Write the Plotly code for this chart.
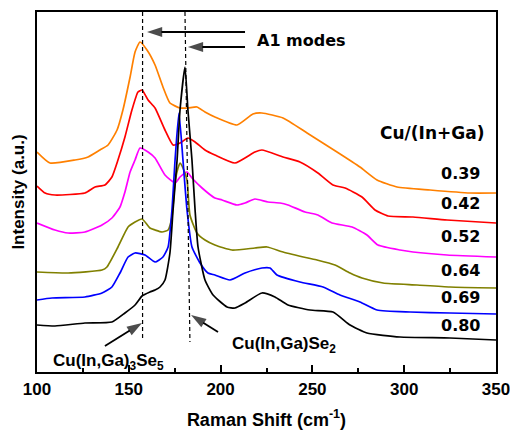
import plotly.graph_objects as go

# ---- data (Raman shift in cm^-1, intensity in arbitrary units, offset stacked) ----
x_039 = [100, 107.1, 120.7, 127.8, 134.3, 138.7, 143.6, 146.8, 150.7, 153.4, 156.1, 159.9, 164.3, 168.6,
         172.4, 177.9, 182.2, 187.1, 191.5, 196.9, 208.9, 217.6, 222.5, 234.0, 247.1, 263.4, 275.9,
         285.2, 296.1, 314.1, 335.8, 350]
y_039 = [220, 209, 212, 215, 222, 227, 242, 262, 295, 320, 330, 322, 307, 285,
         269, 264, 264, 265, 260, 255, 247, 258, 259, 254, 239, 220, 205,
         192, 185, 182, 179, 179]

x_042 = [100, 104.4, 109.8, 126.1, 131.6, 137.0, 140.8, 144.1, 147.9, 151.7, 155.0, 157.2, 160.5, 164.3,
         169.7, 174.1, 177.9, 182.2, 186.1, 191.5, 196.9, 207.8, 218.7, 222.5, 234.0, 243.2, 253.0,
         261.2, 267.8, 277.0, 284.1, 291.2, 304.8, 323.3, 350]
y_042 = [186, 179, 177, 179, 185, 187, 195, 212, 235, 262, 280, 282, 272, 264,
         242, 227, 229, 234, 230, 222, 217, 209, 220, 222, 215, 210, 199,
         187, 184, 175, 162, 156, 155, 152, 149]

x_052 = [100, 109.8, 116.9, 126.1, 135.4, 140.8, 145.2, 147.9, 150.7, 153.4, 156.1, 160.5, 164.3, 169.7,
         175.2, 177.9, 181.7, 184.4, 189.9, 196.9, 200.8, 208.9, 213.3, 218.7, 225.8, 232.4, 236.7,
         246.0, 253.0, 260.7, 271.6, 279.7, 285.7, 297.7, 304.8, 323.3, 350]
y_052 = [149, 142, 139, 140, 147, 154, 165, 180, 200, 212, 224, 220, 214, 197,
         189, 195, 200, 194, 184, 174, 172, 167, 169, 173, 170, 169, 167,
         160, 157, 149, 145, 137, 127, 122, 120, 117, 115]

x_064 = [100, 116.9, 135.4, 138.1, 144.1, 149.6, 153.4, 157.2, 161.5, 164.3, 168.1, 171.4, 173.5, 175.2,
         176.8, 177.9, 179.5, 181.7, 183.3, 187.1, 191.5, 196.9, 206.2, 218.7, 225.3, 234.0, 247.6,
         252.5, 262.3, 270.5, 277.0, 288.5, 307.0, 324.9, 350]
y_064 = [100, 99, 102, 105, 125, 145, 150, 153, 144, 142, 140, 142, 155, 190,
         204, 209, 204, 192, 157, 139, 132, 127, 122, 124, 125, 120, 114,
         112, 107, 99, 94, 89, 87, 85, 84]

x_069 = [100, 108.2, 126.1, 135.4, 140.8, 145.2, 149.6, 153.4, 158.8, 164.3, 168.6, 171.4, 173.5, 175.2,
         177.3, 179.5, 181.7, 184.4, 188.8, 193.1, 196.9, 205.1, 213.3, 222.5, 226.9, 230.7, 243.2,
         255.8, 265.0, 275.9, 285.2, 303.2, 324.9, 350]
y_069 = [72, 74, 75, 79, 85, 99, 115, 119, 117, 110, 115, 125, 162, 212,
         259, 212, 162, 125, 109, 99, 97, 92, 99, 104, 104, 97, 90,
         85, 77, 70, 62, 60, 59, 58]

x_080 = [100, 109.8, 126.1, 140.8, 147.9, 153.4, 157.2, 161.5, 164.3, 167.0, 169.7, 172.4, 174.1, 176.3,
         177.9, 180.6, 182.2, 184.4, 186.1, 187.7, 191.5, 195.9, 203.5, 207.8, 213.3, 222.5, 229.6,
         236.7, 248.7, 261.2, 270.5, 279.7, 297.7, 324.9, 350]
y_080 = [47, 46, 49, 50, 59, 67, 76, 80, 82, 85, 92, 119, 162, 212,
         262, 305, 262, 212, 162, 125, 92, 77, 65, 64, 69, 79, 75,
         67, 62, 60, 47, 39, 35, 34, 32]

ratios = ["0.39", "0.42", "0.52", "0.64", "0.69", "0.80"]
label_y = [199, 169, 136, 102, 75, 47]
colors = ["#FF8000", "#FF0000", "#FF00FF", "#808000", "#0000FF", "#000000"]

series = [(x_039, y_039), (x_042, y_042), (x_052, y_052),
          (x_064, y_064), (x_069, y_069), (x_080, y_080)]

x_ticks = [100, 150, 200, 250, 300, 350]

# A1 mode positions (dashed guide lines) and arrows (tail -> tip)
a1_lines = [([157.5, 157.5], [360, 34]), ([180.6, 183.3], [360, 30])]
arrows = [((213.3, 340), (159.9, 340)), ((213.3, 325), (182.2, 325)),
          ((137.0, 26), (157.2, 49)), ((198.6, 40), (183.9, 57))]

fig = go.Figure()
for (xs, ys), r, c in zip(series, ratios, colors):
    fig.add_trace(go.Scatter(x=xs, y=ys, mode="lines", name=r,
                             line=dict(color=c, width=1.7, shape="spline", smoothing=0.5),
                             showlegend=False))

for xs, ys in a1_lines:
    fig.add_trace(go.Scatter(x=xs, y=ys, mode="lines", showlegend=False,
                             line=dict(color="black", width=1.2, dash="4px,3px")))

for (sx, sy), (tx, ty) in arrows:
    fig.add_trace(go.Scatter(x=[sx, tx], y=[sy, ty], mode="lines+markers", showlegend=False,
                             line=dict(color="black", width=1.8),
                             marker=dict(symbol="arrow", size=[0, 16], angleref="previous",
                                         color="black", line=dict(width=0))))

lab_font = dict(family="DejaVu Sans", size=16, color="black", weight="bold")
ann = []
for r, yy in zip(ratios, label_y):
    ann.append(dict(x=330.4, y=yy, text=r, showarrow=False, font=lab_font,
                    xref="x", yref="y", xanchor="center", yanchor="middle"))
ann.append(dict(x=315.4, y=239.5, text="Cu/(In+Ga)", showarrow=False,
                font=dict(family="DejaVu Sans", size=17, color="black", weight="bold"),
                xref="x", yref="y", xanchor="center", yanchor="middle"))
ann.append(dict(x=218.7, y=332, text="A1 modes", showarrow=False, font=lab_font,
                xref="x", yref="y", xanchor="left", yanchor="middle"))
arial_b = dict(family="Liberation Sans, Arial", size=17, color="black", weight="bold")
ann.append(dict(x=138.7, y=10, text="Cu(In,Ga)<sub>3</sub>Se<sub>5</sub>", showarrow=False,
                font=arial_b, xref="x", yref="y", xanchor="center", yanchor="middle"))
ann.append(dict(x=234.5, y=27, text="Cu(In,Ga)Se<sub>2</sub>", showarrow=False,
                font=arial_b, xref="x", yref="y", xanchor="center", yanchor="middle"))

fig.update_layout(
    width=510, height=430,
    margin=dict(l=37, r=14, t=12, b=58),
    paper_bgcolor="white", plot_bgcolor="white",
    annotations=ann,
    xaxis=dict(range=[100, 350], tickvals=x_ticks, ticks="inside", ticklen=7, tickwidth=1.5,
               tickcolor="black", showline=True, linecolor="black", linewidth=2, mirror=True,
               showgrid=False, zeroline=False, ticklabeloverflow="allow", ticklabelstandoff=1,
               automargin=False,
               minor=dict(dtick=25, tick0=100, ticks="inside", ticklen=4, tickcolor="black", tickwidth=1.5),
               tickfont=dict(family="Liberation Sans, Arial", size=17, color="black", weight="bold"),
               title=dict(text="Raman Shift (cm<sup>-1</sup>)", standoff=28,
                          font=dict(family="Liberation Sans, Arial", size=18, color="black", weight="bold"))),
    yaxis=dict(range=[0, 360], showticklabels=False, ticks="", showline=True, linecolor="black",
               linewidth=2, mirror=True, showgrid=False, zeroline=False, automargin=False,
               title=dict(text="Intensity (a.u.)", standoff=6,
                          font=dict(family="Liberation Sans, Arial", size=17, color="black", weight="bold"))),
)

fig.write_html("out.html")
